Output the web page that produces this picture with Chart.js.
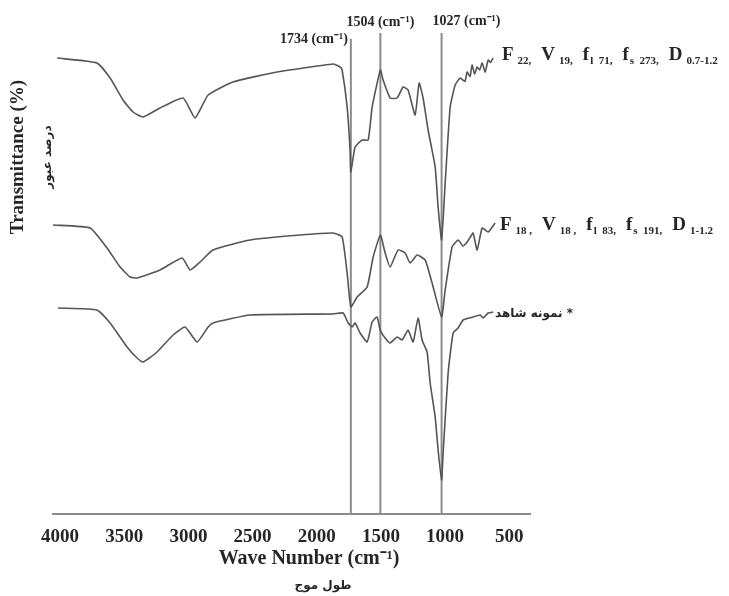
<!DOCTYPE html>
<html>
<head>
<meta charset="utf-8">
<script src="https://cdn.jsdelivr.net/npm/chart.js@4"></script>
<style>
  html, body { margin: 0; padding: 0; background: #fff; }
</style>
</head>
<body>
<canvas id="ftir" width="729" height="596"></canvas>
<script>
// sample F22 (top curve)
const wnA = [4023, 3712, 3610, 3509, 3431, 3353, 3221, 3041, 2948, 2846, 2652, 2309, 1872, 1818, 1802, 1763, 1740, 1734, 1701, 1646, 1599, 1568, 1504, 1483, 1428, 1373, 1327, 1288, 1233, 1202, 1171, 1132, 1077, 1054, 1027, 999, 960, 921, 882, 845, 828, 805, 789, 770, 750, 730, 711, 687, 664, 645, 625];
const tA = [91.2, 90.2, 87.2, 82.8, 80.4, 79.4, 81.2, 83.2, 79.2, 83.8, 86.4, 88.4, 90, 89.4, 88.8, 81.4, 72.8, 68.4, 73.4, 74.8, 74.8, 81.4, 88.8, 86.8, 83.2, 83.2, 85.4, 84.8, 79.8, 86.2, 83.2, 76.8, 69.4, 61.4, 54.8, 66.2, 81.4, 85.8, 87.2, 86.5, 88.4, 87.5, 89.8, 88, 89.4, 88.8, 90.2, 88.4, 90.8, 90.3, 91.2];

// sample F18 (middle curve)
const wnB = [4055, 3766, 3634, 3532, 3454, 3400, 3221, 3049, 2987, 2909, 2808, 2519, 2129, 1872, 1802, 1763, 1734, 1685, 1607, 1560, 1504, 1467, 1428, 1366, 1311, 1272, 1218, 1155, 1101, 1027, 999, 945, 898, 860, 828, 800, 781, 750, 711, 664, 610];
const tB = [57.8, 57.2, 53.2, 49.4, 47.4, 47.2, 48.8, 51.2, 48.8, 50.4, 52.8, 54.8, 55.8, 56.2, 55.4, 48.2, 41.4, 43.4, 45.4, 51.4, 55.8, 52.2, 49.4, 52.8, 52.2, 50.2, 51.8, 50.8, 46.2, 39.4, 44.8, 53.4, 54.8, 53.6, 54.4, 55.5, 56.2, 52.8, 57.2, 56.4, 58.2];

// control sample (bottom curve)
const wnC = [4016, 3712, 3610, 3478, 3400, 3353, 3244, 3119, 3026, 2932, 2846, 2808, 2519, 1872, 1794, 1755, 1724, 1701, 1662, 1607, 1568, 1529, 1506, 1467, 1428, 1373, 1334, 1288, 1249, 1210, 1179, 1140, 1116, 1077, 1054, 1027, 1015, 976, 937, 898, 859, 781, 726, 703, 664, 625];
const tC = [41.2, 40.8, 38.2, 33.4, 31.2, 30.4, 32.4, 35.8, 37.4, 34.4, 37.4, 38.2, 39.8, 40, 40.2, 38.2, 37.4, 38.2, 36.2, 34.4, 38.4, 39.4, 36.8, 35.2, 34.2, 35.4, 34.8, 36.8, 34.4, 39.2, 34.8, 32.4, 26.2, 19.4, 12.8, 6.8, 12.2, 28.2, 36.2, 37.2, 38.8, 39.4, 39.8, 39.2, 40.2, 40.4];

// marked peaks
const peakWn = [1734, 1504, 1027];
const peakTop = [95, 96.2, 96.2];
const peakLabels = ["1734 (cm⁻¹)", "1504 (cm⁻¹)", "1027 (cm⁻¹)"];

const xTicks = [4000, 3500, 3000, 2500, 2000, 1500, 1000, 500];

// [main glyph, subscript]
const labelA = [["F", "22,"], ["V", "19,"], ["f", "l  71,"], ["f", "s  273,"], ["D", "0.7-1.2"]];
const labelB = [["F", "18 ,"], ["V", "18 ,"], ["f", "l  83,"], ["f", "s  191,"], ["D", "1-1.2"]];
const labelC = "نمونه شاهد *";

const toPoints = (wn, t) => wn.map((w, i) => ({ x: w, y: t[i] }));

const curveStyle = {
  borderColor: "#555",
  borderWidth: 1.6,
  pointRadius: 0,
  tension: 0.15,
  fill: false,
};

const peakSets = peakWn.map((w, i) => ({
  data: [{ x: w, y: 0 }, { x: w, y: peakTop[i] }],
  borderColor: "#8c8c8c",
  borderWidth: 2,
  pointRadius: 0,
  fill: false,
}));

const drawSubLabel = (ctx, parts, x, y) => {
  let cx = x;
  parts.forEach(([main, sub]) => {
    ctx.font = 'bold 19px "Liberation Serif"';
    ctx.fillText(main, cx, y);
    cx += ctx.measureText(main).width + (main === "f" ? 1 : 4);
    ctx.font = 'bold 11px "Liberation Serif"';
    ctx.fillText(sub, cx, y + 4);
    cx += ctx.measureText(sub).width + 10;
  });
};

const annotate = {
  id: "annotate",
  afterDraw(chart) {
    const { ctx, scales } = chart;
    const x = scales.x;
    ctx.save();
    ctx.fillStyle = "#262626";
    ctx.textBaseline = "alphabetic";

    // peak labels
    ctx.font = 'bold 14px "Liberation Serif"';
    ctx.textAlign = "right";
    ctx.fillText(peakLabels[0], x.getPixelForValue(peakWn[0]) - 3, 43);
    ctx.textAlign = "center";
    ctx.fillText(peakLabels[1], x.getPixelForValue(peakWn[1]), 26);
    ctx.textAlign = "left";
    ctx.fillText(peakLabels[2], x.getPixelForValue(peakWn[2]) - 9, 25);

    // sample labels
    drawSubLabel(ctx, labelA, 502, 60);
    drawSubLabel(ctx, labelB, 500, 230);
    ctx.font = 'bold 12px "DejaVu Sans"';
    ctx.fillText(labelC, 495, 317);

    // x axis titles
    ctx.textAlign = "center";
    ctx.font = 'bold 20px "Liberation Serif"';
    ctx.fillText("Wave Number (cm⁻¹)", 309, 564);
    ctx.font = 'bold 12px "DejaVu Sans"';
    ctx.fillText("طول موج", 323, 589);

    // y axis titles
    ctx.save();
    ctx.translate(23, 157);
    ctx.rotate(-Math.PI / 2);
    ctx.font = 'bold 19px "Liberation Serif"';
    ctx.fillText("Transmittance (%)", 0, 0);
    ctx.restore();
    ctx.save();
    ctx.translate(51, 157);
    ctx.rotate(-Math.PI / 2);
    ctx.font = 'bold 12px "DejaVu Sans"';
    ctx.fillText("درصد عبور", 0, 0);
    ctx.restore();

    ctx.restore();
  },
};

new Chart(document.getElementById("ftir"), {
  type: "line",
  data: {
    datasets: [
      { data: toPoints(wnA, tA), ...curveStyle },
      { data: toPoints(wnB, tB), ...curveStyle },
      { data: toPoints(wnC, tC), ...curveStyle },
      ...peakSets,
    ],
  },
  options: {
    responsive: false,
    animation: false,
    layout: { padding: { left: 53, right: 199, top: 14, bottom: 0 } },
    plugins: {
      legend: { display: false },
      tooltip: { enabled: false },
    },
    scales: {
      x: {
        type: "linear",
        reverse: true,
        min: 338,
        max: 4055,
        afterFit: (scale) => {
          scale.height = 82;
        },
        afterBuildTicks: (scale) => {
          scale.ticks = xTicks.map((v) => ({ value: v }));
        },
        grid: { display: false, drawTicks: false },
        border: { display: true, color: "#8c8c8c", width: 2 },
        ticks: {
          padding: 12,
          color: "#262626",
          font: { family: "Liberation Serif", size: 19, weight: "bold" },
          maxRotation: 0,
          callback: (v) => String(v),
        },
      },
      y: {
        display: false,
        min: 0,
        max: 100,
      },
    },
  },
  plugins: [annotate],
});
</script>
</body>
</html>
